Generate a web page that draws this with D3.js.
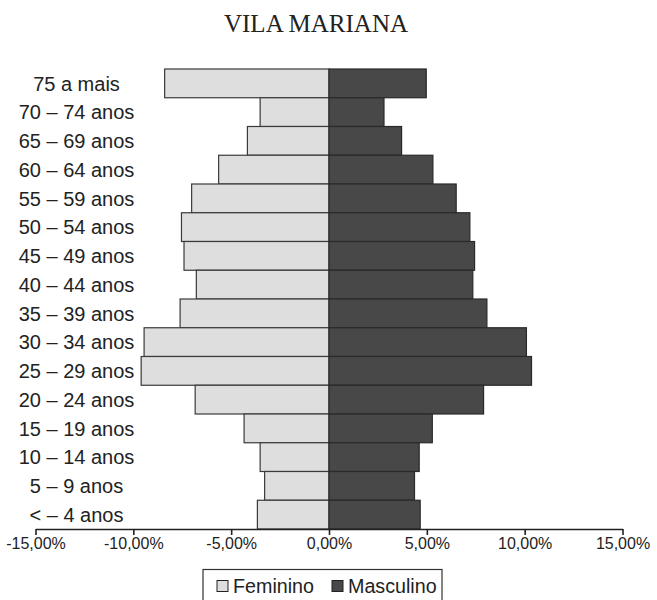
<!DOCTYPE html>
<html>
<head>
<meta charset="utf-8">
<script src="https://cdn.jsdelivr.net/npm/d3@7"></script>
<style>
  html, body { margin: 0; padding: 0; background: #fff; }
  svg { display: block; }
</style>
</head>
<body>
<svg id="chart" width="657" height="600"></svg>
<script>
// Age groups, top (oldest) to bottom (youngest)
const ageGroups = [
  "75 a mais", "70 – 74 anos", "65 – 69 anos", "60 – 64 anos",
  "55 – 59 anos", "50 – 54 anos", "45 – 49 anos", "40 – 44 anos",
  "35 – 39 anos", "30 – 34 anos", "25 – 29 anos", "20 – 24 anos",
  "15 – 19 anos", "10 – 14 anos", "5 – 9 anos", "< – 4 anos"
];
// Share of population (%) per age group
const feminino = [8.40, 3.52, 4.17, 5.64, 7.02, 7.54, 7.41, 6.78,
                  7.61, 9.45, 9.60, 6.84, 4.34, 3.52, 3.29, 3.66];
const masculino = [4.97, 2.81, 3.71, 5.31, 6.50, 7.20, 7.44, 7.35,
                   8.07, 10.09, 10.35, 7.90, 5.28, 4.61, 4.37, 4.66];
const tickValues = [-15, -10, -5, 0, 5, 10, 15];
const seriesNames = ["Feminino", "Masculino"];
const seriesColors = ["#dedede", "#484848"];

const svg = d3.select("#chart");
const sans = "'Liberation Sans', Arial, sans-serif";

const x = d3.scaleLinear().domain([-15, 15]).range([35.5, 622.5]);
const y = d3.scaleBand().domain(ageGroups).range([69, 529]).padding(0);

// Title
svg.append("text")
  .attr("x", 316).attr("y", 32)
  .attr("text-anchor", "middle")
  .attr("font-family", "'Liberation Serif', 'Times New Roman', serif")
  .attr("font-size", 25)
  .attr("fill", "#222")
  .text("VILA MARIANA");

// Female bars (left, negative side)
svg.append("g").selectAll("rect")
  .data(ageGroups)
  .join("rect")
  .attr("x", (d, i) => x(-feminino[i]))
  .attr("y", d => y(d))
  .attr("width", (d, i) => x(0) - x(-feminino[i]))
  .attr("height", y.bandwidth())
  .attr("fill", seriesColors[0])
  .attr("stroke", "#3a3a3a")
  .attr("stroke-width", 1.2);

// Male bars (right, positive side)
svg.append("g").selectAll("rect")
  .data(ageGroups)
  .join("rect")
  .attr("x", x(0))
  .attr("y", d => y(d))
  .attr("width", (d, i) => x(masculino[i]) - x(0))
  .attr("height", y.bandwidth())
  .attr("fill", seriesColors[1])
  .attr("stroke", "#2a2a2a")
  .attr("stroke-width", 1.2);

// Age group labels, centred in the left margin
svg.append("g").selectAll("text")
  .data(ageGroups)
  .join("text")
  .attr("x", 76.5)
  .attr("y", d => y(d) + y.bandwidth() / 2)
  .attr("dy", "0.36em")
  .attr("text-anchor", "middle")
  .attr("font-family", sans)
  .attr("font-size", 20)
  .attr("fill", "#222")
  .text(d => d);

// Horizontal axis with Brazilian-formatted percentages
const fmt = v => (v < 0 ? "-" : "") + Math.abs(v).toFixed(2).replace(".", ",") + "%";
const axis = svg.append("g")
  .attr("transform", "translate(0,529)")
  .call(d3.axisBottom(x).tickValues(tickValues).tickFormat(fmt).tickSize(6).tickSizeOuter(0));
axis.select(".domain").attr("stroke", "#222").attr("stroke-width", 1.6);
axis.selectAll(".tick line").attr("stroke", "#222").attr("stroke-width", 1.6);
axis.selectAll(".tick text")
  .attr("font-family", sans)
  .attr("font-size", 16)
  .attr("fill", "#222")
  .attr("y", 9);

// Legend
const legend = svg.append("g");
legend.append("rect")
  .attr("x", 203).attr("y", 569.5)
  .attr("width", 239).attr("height", 50)
  .attr("fill", "#fff")
  .attr("stroke", "#333").attr("stroke-width", 1.2);
const legendX = [217, 332];
seriesNames.forEach((name, i) => {
  legend.append("rect")
    .attr("x", legendX[i]).attr("y", 580.5)
    .attr("width", 11).attr("height", 11)
    .attr("fill", seriesColors[i])
    .attr("stroke", "#222").attr("stroke-width", 1);
  legend.append("text")
    .attr("x", legendX[i] + 16).attr("y", 592.5)
    .attr("font-family", sans)
    .attr("font-size", 19.7)
    .attr("fill", "#222")
    .text(name);
});
</script>
</body>
</html>
